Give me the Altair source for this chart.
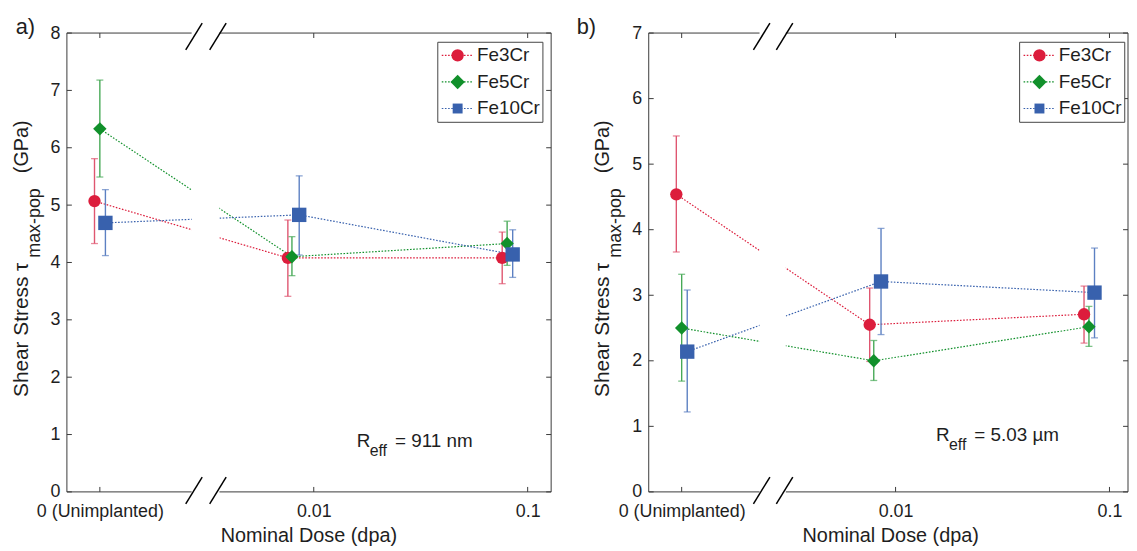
import altair as alt
import pandas as pd

FONT = "Liberation Sans"
SERIES = ["Fe3Cr", "Fe5Cr", "Fe10Cr"]
COLORS = ["#dc1d3c", "#11902b", "#3861ad"]
ERR_COLORS = ["#df5670", "#47a957", "#5c80c2"]
SHAPES = ["circle", "diamond", "square"]
SIZES = [155, 210, 100]

# x positions on a log10(dose) axis; "0 (Unimplanted)" is drawn one decade below 0.01
TICK_POS = [-3, -2, -1]
TICK_LABELS = ["0 (Unimplanted)", "0.01", "0.1"]

X_FE3CR = [-3.025, -2.121, -1.119]
X_FE5CR = [-3.000, -2.102, -1.096]
X_FE10CR = [-2.974, -2.068, -1.070]

# panel a) R_eff = 911 nm
A_FE3CR = [5.07, 4.08, 4.08]
A_FE3CR_LO = [4.33, 3.41, 3.63]
A_FE3CR_HI = [5.81, 4.74, 4.53]
A_FE5CR = [6.33, 4.10, 4.33]
A_FE5CR_LO = [5.49, 3.77, 3.95]
A_FE5CR_HI = [7.18, 4.45, 4.72]
A_FE10CR = [4.69, 4.83, 4.14]
A_FE10CR_LO = [4.12, 4.13, 3.74]
A_FE10CR_HI = [5.27, 5.51, 4.57]

# panel b) R_eff = 5.03 um
B_FE3CR = [4.54, 2.55, 2.71]
B_FE3CR_LO = [3.66, 1.99, 2.27]
B_FE3CR_HI = [5.43, 3.11, 3.14]
B_FE5CR = [2.50, 2.00, 2.52]
B_FE5CR_LO = [1.69, 1.70, 2.22]
B_FE5CR_HI = [3.32, 2.31, 2.83]
B_FE10CR = [2.14, 3.21, 3.04]
B_FE10CR_LO = [1.22, 2.40, 2.35]
B_FE10CR_HI = [3.08, 4.02, 3.72]

A_YTICKS = [0, 1, 2, 3, 4, 5, 6, 7, 8]
B_YTICKS = [0, 1, 2, 3, 4, 5, 6, 7]

# axis-break positions (log10 dose units)
A_GAP = [-2.571, -2.441]
A_SLASHES = [-2.560, -2.448]
B_GAP = [-2.636, -2.513]
B_SLASHES = [-2.626, -2.519]

# layout
PX_PER_DEC = 215.7
X_LEFT = -3.154
H = 462.7
W_A = 488.3
W_B = 483.3
AXIS_COLOR = "#3a3a3a"
TEXT_COLOR = "#1e1e1e"

ONE = pd.DataFrame({"k": [0]})


def label_expr():
    expr = "''"
    for p, l in reversed(list(zip(TICK_POS, TICK_LABELS))):
        expr = f"datum.value == {p} ? '{l}' : {expr}"
    return expr


def txt(text, x, y, size, align="left", baseline="alphabetic", angle=0):
    kw = dict(text=text, font=FONT, fontSize=size, align=align, baseline=baseline, color=TEXT_COLOR)
    if angle:
        kw["angle"] = angle
    return alt.Chart(ONE).mark_text(**kw).encode(x=alt.value(x), y=alt.value(y))


def build_panel(ys, los, his, W, y_max, y_ticks, gap, slashes, tag, tag_x, reff, reff_x, reff_y):
    rows = []
    for s, xs, y, lo, hi in zip(SERIES, [X_FE3CR, X_FE5CR, X_FE10CR], ys, los, his):
        for i in range(len(xs)):
            rows.append(dict(series=s, x=xs[i], y=y[i], lo=lo[i], hi=hi[i]))
    df = pd.DataFrame(rows)

    x_right = X_LEFT + W / PX_PER_DEC
    xsc = alt.Scale(domain=[X_LEFT, x_right], nice=False, zero=False)
    ysc = alt.Scale(domain=[0, y_max], nice=False, zero=False)
    xax = alt.Axis(values=TICK_POS, labelExpr=label_expr(), domain=False, ticks=False, tickSize=0,
                   grid=False, title=None, labelFont=FONT, labelFontSize=18, labelColor=TEXT_COLOR,
                   labelPadding=25, labelBaseline="alphabetic", labelFlush=False, labelOverlap=False)
    yax = alt.Axis(values=y_ticks, format="d", domain=False, ticks=False, tickSize=0, grid=False,
                   title=None, labelFont=FONT, labelFontSize=18, labelColor=TEXT_COLOR,
                   labelPadding=7, labelFlush=False, labelOverlap=False)

    def X(f):
        return alt.X(f, scale=xsc, axis=xax)

    def Y(f):
        return alt.Y(f, scale=ysc, axis=yax)

    col = alt.Color("series:N", scale=alt.Scale(domain=SERIES, range=COLORS), legend=None)

    layers = []
    # box
    layers.append(alt.Chart(ONE).mark_rule(color=AXIS_COLOR, strokeWidth=1).encode(
        x=alt.value(0), x2=alt.value(W), y=alt.value(0)))
    layers.append(alt.Chart(ONE).mark_rule(color=AXIS_COLOR, strokeWidth=1).encode(
        x=alt.value(0), x2=alt.value(W), y=alt.value(H)))
    layers.append(alt.Chart(ONE).mark_rule(color=AXIS_COLOR, strokeWidth=1).encode(
        x=alt.value(0), y=alt.value(0), y2=alt.value(H)))
    layers.append(alt.Chart(ONE).mark_rule(color=AXIS_COLOR, strokeWidth=1).encode(
        x=alt.value(W), y=alt.value(0), y2=alt.value(H)))
    # inward ticks
    ydf = pd.DataFrame({"v": y_ticks})
    xdf = pd.DataFrame({"v": TICK_POS})
    layers.append(alt.Chart(ydf).mark_rule(color=AXIS_COLOR).encode(
        y=Y("v:Q"), x=alt.value(0), x2=alt.value(5)))
    layers.append(alt.Chart(ydf).mark_rule(color=AXIS_COLOR).encode(
        y=Y("v:Q"), x=alt.value(W - 5), x2=alt.value(W)))
    layers.append(alt.Chart(xdf).mark_rule(color=AXIS_COLOR).encode(
        x=X("v:Q"), y=alt.value(H - 5), y2=alt.value(H)))
    layers.append(alt.Chart(xdf).mark_rule(color=AXIS_COLOR).encode(
        x=X("v:Q"), y=alt.value(0), y2=alt.value(5)))

    # dotted connecting lines
    layers.append(alt.Chart(df).mark_line(strokeDash=[1.6, 1.6], strokeWidth=1.2).encode(
        x=X("x:Q"), y=Y("y:Q"), color=col, detail="series:N"))

    # white gap across the axis break
    gdf = pd.DataFrame({"g1": [gap[0]], "g2": [gap[1]]})
    layers.append(alt.Chart(gdf).mark_rect(color="white").encode(
        x=X("g1:Q"), x2="g2:Q", y=alt.value(-3), y2=alt.value(H + 3)))

    # error bars
    err_stroke = alt.Stroke("series:N", scale=alt.Scale(domain=SERIES, range=ERR_COLORS), legend=None)
    err_fill = alt.Fill("series:N", scale=alt.Scale(domain=SERIES, range=ERR_COLORS), legend=None)
    layers.append(alt.Chart(df).mark_rule(strokeWidth=1.4).encode(
        x=X("x:Q"), y=Y("lo:Q"), y2="hi:Q", stroke=err_stroke))
    for f in ["lo", "hi"]:
        layers.append(alt.Chart(df).mark_tick(orient="horizontal", size=7, thickness=1.3).encode(
            x=X("x:Q"), y=Y(f + ":Q"), fill=err_fill))

    # markers
    layers.append(alt.Chart(df).mark_point(filled=True, opacity=1).encode(
        x=X("x:Q"), y=Y("y:Q"), color=col,
        shape=alt.Shape("series:N", scale=alt.Scale(domain=SERIES, range=SHAPES), legend=None),
        size=alt.Size("series:N", scale=alt.Scale(domain=SERIES, range=SIZES), legend=None)))

    # break slashes
    d = 8.3 / PX_PER_DEC
    sdf = pd.DataFrame({"s1": [c - d for c in slashes], "s2": [c + d for c in slashes]})
    for y_lo, y_hi in [(H + 12, H - 15), (17, -10)]:
        layers.append(alt.Chart(sdf).mark_rule(color="black", strokeWidth=1.5).encode(
            x=X("s1:Q"), x2="s2:Q", y=alt.value(y_lo), y2=alt.value(y_hi)))

    # legend
    layers.append(alt.Chart(ONE).mark_rect(fill="white", stroke="#444444", strokeWidth=1).encode(
        x=alt.value(374), x2=alt.value(480), y=alt.value(9.3), y2=alt.value(90)))
    for i, s in enumerate(SERIES):
        yy = 22.5 + 26.8 * i
        layers.append(alt.Chart(ONE).mark_rule(color=COLORS[i], strokeDash=[1.6, 1.6], strokeWidth=1.2).encode(
            x=alt.value(378), x2=alt.value(410), y=alt.value(yy)))
        layers.append(alt.Chart(ONE).mark_point(filled=True, opacity=1, shape=SHAPES[i], size=SIZES[i],
                                                color=COLORS[i]).encode(
            x=alt.value(394), y=alt.value(yy)))
        layers.append(txt(s, 413.5, yy, 19, baseline="middle"))

    # annotation R_eff
    layers.append(txt("R", reff_x, reff_y, 19))
    layers.append(txt("eff", reff_x + 13, reff_y + 9.2, 16))
    layers.append(txt(reff, reff_x + 38.5, reff_y, 19))

    # panel tag, axis titles
    layers.append(txt(tag, tag_x, 0.5, 22))
    layers.append(txt("Shear Stress \u03c4", -39.7, 367, 21, angle=270))
    layers.append(txt("max-pop", -27.5, 226.5, 18, angle=270))
    layers.append(txt("(GPa)", -39.7, 88, 20, align="right", angle=270))
    layers.append(txt("Nominal Dose (dpa)", 244, 513.5, 20, align="center"))

    return alt.layer(*layers).properties(width=W, height=H)


panel_a = build_panel([A_FE3CR, A_FE5CR, A_FE10CR], [A_FE3CR_LO, A_FE5CR_LO, A_FE10CR_LO],
                      [A_FE3CR_HI, A_FE5CR_HI, A_FE10CR_HI], W_A, 8, A_YTICKS, A_GAP, A_SLASHES,
                      "a)", -51.7, "= 911 nm", 292.3, 417.5)
panel_b = build_panel([B_FE3CR, B_FE5CR, B_FE10CR], [B_FE3CR_LO, B_FE5CR_LO, B_FE10CR_LO],
                      [B_FE3CR_HI, B_FE5CR_HI, B_FE10CR_HI], W_B, 7, B_YTICKS, B_GAP, B_SLASHES,
                      "b)", -72.7, "= 5.03 \u00b5m", 289.8, 411)

chart = alt.hconcat(panel_a, panel_b, spacing=97.7, bounds="flush").configure_view(
    strokeWidth=0).properties(padding={"left": 2.4, "top": 5, "right": 0, "bottom": 0}, background="white")

chart.save("out.html", embed_options={"renderer": "svg", "actions": False})
